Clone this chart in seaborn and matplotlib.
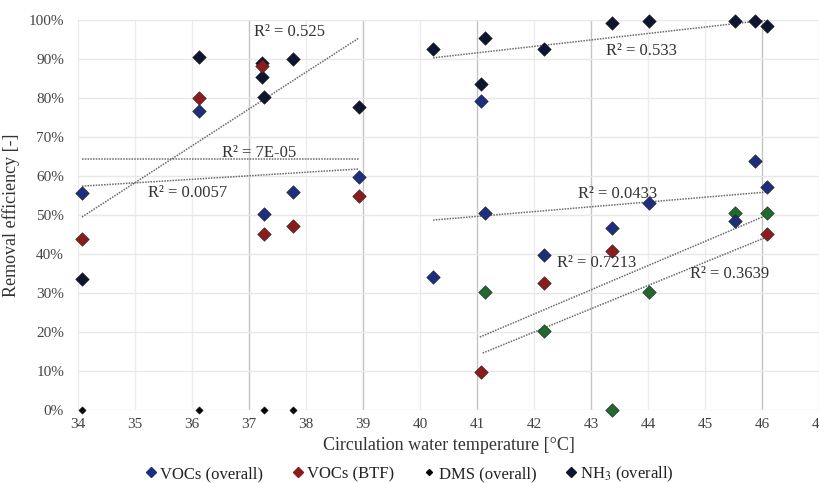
import numpy as np
import pandas as pd
import matplotlib
matplotlib.use("Agg")
import matplotlib.pyplot as plt
import seaborn as sns
from matplotlib.lines import Line2D

# Data

# VOCs (overall)
voc_t = [34.07, 36.12, 37.26, 37.77, 38.93, 40.23, 41.07, 41.14, 42.18, 43.37, 44.02, 45.53, 45.88, 46.09]
voc_eff = [55.6, 76.7, 50.3, 55.9, 59.7, 34.1, 79.2, 50.5, 39.7, 46.7, 53.1, 48.5, 63.8, 57.2]

# VOCs (BTF)
btf_t = [34.07, 36.12, 37.23, 37.26, 37.77, 38.93, 41.07, 42.18, 43.37, 46.09]
btf_eff = [43.8, 80.0, 88.2, 45.1, 47.2, 54.9, 9.7, 32.6, 40.8, 45.1]

# DMS (overall), first campaign (all zero) and second campaign (green)
dms_t = [34.07, 36.12, 37.26, 37.77]
dms_eff = [0, 0, 0, 0]
dms2_t = [41.14, 42.18, 43.37, 44.02, 45.53, 46.09]
dms2_eff = [30.3, 20.3, 0.0, 30.3, 50.5, 50.5]

# NH3 (overall)
nh3_t = [34.07, 36.12, 37.23, 37.23, 37.26, 37.77, 38.93,
         40.23, 41.07, 41.14, 42.18, 43.37, 44.02, 45.53, 45.88, 46.09]
nh3_eff = [33.6, 90.5, 89.0, 85.4, 80.3, 90.0, 77.7,
           92.6, 83.6, 95.4, 92.6, 99.2, 99.7, 99.7, 99.7, 98.5]

# Linear trend lines (start / end) and their R² labels
trend_x0 = [34.07, 34.07, 34.07, 40.23, 40.23, 41.05, 41.10]
trend_x1 = [38.93, 38.93, 38.93, 46.09, 46.09, 46.09, 46.09]
trend_y0 = [49.5, 64.4, 57.4, 90.3, 48.7, 18.7, 14.6]
trend_y1 = [95.4, 64.4, 61.8, 100.0, 55.9, 50.0, 44.4]
r2_text = ["R² = 0.525", "R² = 7E-05", "R² = 0.0057", "R² = 0.533",
           "R² = 0.0433", "R² = 0.7213", "R² = 0.3639"]
r2_x = [37.71, 37.18, 35.93, 43.89, 43.46, 43.10, 45.43]
r2_y = [96.9, 65.8, 55.6, 92.1, 55.4, 37.8, 35.0]

x_ticks = list(range(34, 48))
y_ticks = list(range(0, 101, 10))
dark_grid = [37, 39, 41, 43, 46]

# Style
sns.set_style("white")
plt.rcParams['font.family'] = ['Liberation Serif', 'DejaVu Serif']
plt.rcParams['mathtext.fontset'] = 'stix'

c_voc = '#1d2f7c'
c_btf = '#8c1c1c'
c_dms2 = '#1f6a2c'
c_nh3 = '#0e1530'

fig = plt.figure(figsize=(8.2, 4.83), dpi=100)
ax = fig.add_axes([78 / 820, 73 / 483, 741 / 820, 390 / 483])

# grid
for t in x_ticks:
    ax.axvline(t, color='#c4c4c4' if t in dark_grid else '#ececec', lw=1.0, zorder=0)
for v in y_ticks:
    ax.axhline(v, color='#e8e8e8', lw=1.0, zorder=0)

# trend lines
for x0, x1, y0, y1 in zip(trend_x0, trend_x1, trend_y0, trend_y1):
    ax.plot([x0, x1], [y0, y1], color='#6a6a6a', lw=1.1, ls=(0, (1, 0.8)), zorder=1)

# points
kw = dict(marker='D', edgecolor='#222222', linewidth=0.4, zorder=3, clip_on=False, legend=False)
sns.scatterplot(x=dms_t, y=dms_eff, color='black', s=14, ax=ax, **kw)
sns.scatterplot(x=dms2_t, y=dms2_eff, color=c_dms2, s=48, ax=ax, **kw)
sns.scatterplot(x=nh3_t, y=nh3_eff, color=c_nh3, s=48, ax=ax, **kw)
sns.scatterplot(x=voc_t, y=voc_eff, color=c_voc, s=48, ax=ax, **kw)
sns.scatterplot(x=btf_t, y=btf_eff, color=c_btf, s=48, ax=ax, **kw)

# R² labels
for txt, tx, ty in zip(r2_text, r2_x, r2_y):
    ax.text(tx, ty, txt, ha='center', va='center', fontsize=12, color='#333333', zorder=4)

ax.set_xlim(34, 47)
ax.set_ylim(0, 100)
ax.set_xticks(x_ticks)
ax.set_yticks(y_ticks)
ax.set_yticklabels([f"{v}%" for v in y_ticks])
ax.tick_params(axis='both', labelsize=11, colors='#444444', length=0)
ax.tick_params(axis='y', pad=10)
ax.tick_params(axis='x', pad=6)
for s in ax.spines.values():
    s.set_visible(False)

ax.set_xlabel("Circulation water temperature [°C]", fontsize=13, color='#333333', labelpad=4)
ax.set_ylabel("Removal efficiency [-]", fontsize=13, color='#333333', labelpad=6)

handles = [
    Line2D([], [], ls='', marker='D', color=c_voc, markersize=5),
    Line2D([], [], ls='', marker='D', color=c_btf, markersize=5),
    Line2D([], [], ls='', marker='D', color='black', markersize=3),
    Line2D([], [], ls='', marker='D', color=c_nh3, markersize=5),
]
labels = ["VOCs (overall)", "VOCs (BTF)", "DMS (overall)", "NH$_3$ (overall)"]
fig.legend(handles, labels, loc='center', bbox_to_anchor=(0.5, 0.018), ncol=4,
           frameon=False, fontsize=12, handlelength=0.6, handletextpad=0.25,
           columnspacing=1.8, labelcolor='#222222')

fig.savefig("out.png", dpi=100)
